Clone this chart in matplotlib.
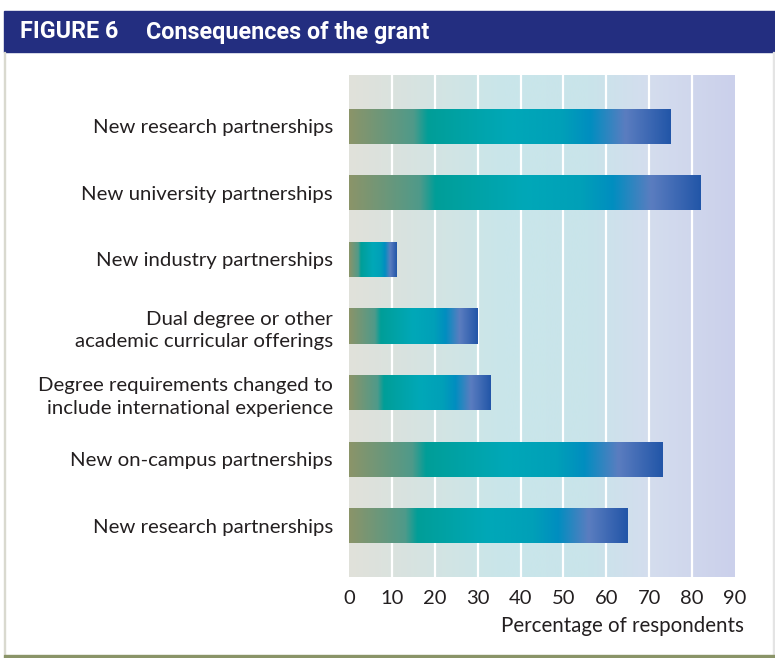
import numpy as np
import matplotlib
matplotlib.use("Agg")
import matplotlib.pyplot as plt
from matplotlib.colors import LinearSegmentedColormap
from matplotlib.patches import Rectangle

# chart data (top to bottom)
categories = [
    "New research partnerships",
    "New university partnerships",
    "New industry partnerships",
    "Dual degree or other\nacademic curricular offerings",
    "Degree requirements changed to\ninclude international experience",
    "New on-campus partnerships",
    "New research partnerships",
]
values = [75, 82, 11, 30, 33, 73, 65]
xticks = [0, 10, 20, 30, 40, 50, 60, 70, 80, 90]

label_font = ["Lato", "DejaVu Sans"]
head_font = ["Roboto", "DejaVu Sans"]

# colour ramps
bar_cmap = LinearSegmentedColormap.from_list("bar", [
    (0.00, "#8b9469"),
    (0.20, "#4f9a8a"),
    (0.245, "#009e98"),
    (0.50, "#00a8b8"),
    (0.66, "#00a0b8"),
    (0.75, "#008ec0"),
    (0.86, "#5b7dc0"),
    (1.00, "#2256a8"),
])
bg_cmap = LinearSegmentedColormap.from_list("bg", [
    (0.00, "#e1e1da"),
    (0.40, "#c9e6ea"),
    (0.62, "#c9e4ea"),
    (0.78, "#d4ddee"),
    (1.00, "#cbd0eb"),
])

fig = plt.figure(figsize=(7.75, 6.58), dpi=100)
W, H = 775, 658

# frame: header band, side borders, bottom rule
fig.patches.append(Rectangle((4 / W, 1 - 52 / H), 771 / W, 41 / H,
                             transform=fig.transFigure, color="#232e80", zorder=0))
fig.patches.append(Rectangle((3.5 / W, 1 - 655 / H), 1.8 / W, 603 / H,
                             transform=fig.transFigure, color="#d9d9cf", zorder=0))
fig.patches.append(Rectangle((772.5 / W, 1 - 655 / H), 1.5 / W, 603 / H,
                             transform=fig.transFigure, color="#e4e4e4", zorder=0))
fig.patches.append(Rectangle((3.5 / W, 0), 771.5 / W, 3.5 / H,
                             transform=fig.transFigure, color="#8a9468", zorder=0))

fig.text(20 / W, 1 - 32 / H, "FIGURE 6", color="white", fontsize=16.8,
         fontweight="bold", family=head_font, va="center")
fig.text(146 / W, 1 - 32 / H, "Consequences of the grant", color="white", fontsize=16.8,
         fontweight="bold", family=head_font, va="center")

ax = fig.add_axes([349 / W, 1 - 577 / H, 386 / W, 502 / H])
y = np.arange(len(categories))
ax.set_xlim(0, 90)
ax.set_ylim(len(categories) - 1 + 0.77, -0.77)

# background gradient
grad = np.linspace(0, 1, 256).reshape(1, -1)
ax.imshow(grad, cmap=bg_cmap, aspect="auto", extent=[0, 90, *ax.get_ylim()],
          zorder=0, interpolation="bicubic")
for gx in xticks[1:-1]:
    ax.axvline(gx, color="white", lw=1.6, zorder=1)

# bars, each filled with the same left-to-right ramp
bars = ax.barh(y, values, height=0.53, color="none", zorder=2)
for b in bars:
    x0, y0 = b.get_x(), b.get_y()
    im = ax.imshow(grad, cmap=bar_cmap, aspect="auto", zorder=2,
                   extent=[x0, x0 + b.get_width(), y0 + b.get_height(), y0],
                   interpolation="bicubic")
    im.set_clip_path(b)
ax.set_xlim(0, 90)
ax.set_ylim(len(categories) - 1 + 0.77, -0.77)

for s in ax.spines.values():
    s.set_visible(False)
ax.set_xticks(xticks)
ax.set_xticklabels([str(t) for t in xticks], fontsize=14.5, family=label_font,
                   color="#231f20")
ax.set_yticks(y)
ax.set_yticklabels(categories, fontsize=14.7, family=label_font,
                   color="#231f20", linespacing=1.42)
ax.tick_params(length=0, pad=11.5)
ax.tick_params(axis="x", pad=9)
ax.set_xlabel("Percentage of respondents", fontsize=14.8, family=label_font,
              color="#231f20", loc="right", labelpad=7)
ax.xaxis.label.set_x(1.022)

fig.savefig("out.png", dpi=100)
